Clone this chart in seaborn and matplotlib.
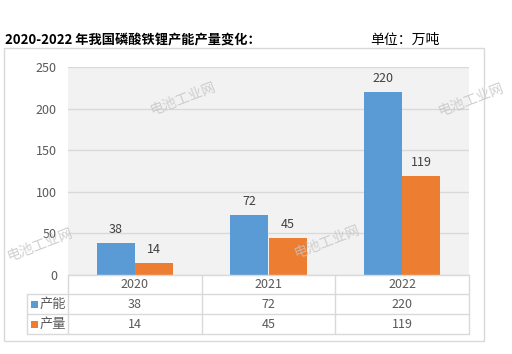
import matplotlib
matplotlib.use("Agg")
import matplotlib.pyplot as plt
import seaborn as sns
import pandas as pd
from matplotlib.patches import Rectangle
from matplotlib.lines import Line2D

years = ["2020", "2021", "2022"]
series_names = ["产能", "产量"]
capacity = [38, 72, 220]
output = [14, 45, 119]
yticks = [0, 50, 100, 150, 200, 250]
title = "2020-2022 年我国磷酸铁锂产能产量变化："
unit = "单位：万吨"
watermark = "电池工业网"

colors = ["#5b9bd5", "#ed7d31"]

sns.set_style("white")
plt.rcParams['font.family'] = ['Noto Sans CJK SC', 'DejaVu Sans']

W, H = 512, 354
fig = plt.figure(figsize=(W / 100, H / 100), dpi=100)

def fx(x):
    return x / W

def fy(y):
    return 1 - y / H

# outer frame
fig.patches.append(Rectangle((fx(4), fy(341)), fx(480), 293 / H, transform=fig.transFigure,
                             fill=False, edgecolor="#d9d9d9", linewidth=1))

# title
fig.text(fx(5), fy(40), title, fontsize=9.5, fontweight="bold", color="#000000", va="center", ha="left")
fig.text(fx(370), fy(40), unit, fontsize=10, color="#000000", va="center", ha="left")

# plot axes
L, R, T, B = 68, 469, 67, 275
ax = fig.add_axes([fx(L), fy(B), (R - L) / W, (B - T) / H])
ax.set_facecolor("#f2f2f2")

df = pd.DataFrame({
    "year": years * 2,
    "series": [series_names[0]] * 3 + [series_names[1]] * 3,
    "value": capacity + output,
})
sns.barplot(data=df, x="year", y="value", hue="series", palette=colors, width=0.57,
            ax=ax, legend=False, saturation=1, linewidth=0)

for cont in ax.containers:
    ax.bar_label(cont, padding=5, fontsize=9, color="#404040")

ax.set_ylim(0, 250)
ax.set_yticks(yticks)
ax.set_yticklabels([str(t) for t in yticks], fontsize=9, color="#595959")
ax.set_xticks([])
ax.set_xlim(-0.5, 2.5)
ax.set_xlabel("")
ax.set_ylabel("")
ax.tick_params(axis="y", length=0, pad=8)
ax.grid(axis="y", color="#d9d9d9", linewidth=1)
ax.set_axisbelow(True)
for s in ax.spines.values():
    s.set_visible(False)

# data table
col_x = [L + (R - L) * i / 3 for i in range(4)]
row_y = [275, 294, 314, 334]
lc = "#d9d9d9"
def hline(x0, x1, y):
    fig.lines.append(Line2D([fx(x0), fx(x1)], [fy(y), fy(y)], transform=fig.transFigure, color=lc, linewidth=1))
def vline(x, y0, y1):
    fig.lines.append(Line2D([fx(x), fx(x)], [fy(y0), fy(y1)], transform=fig.transFigure, color=lc, linewidth=1))

hline(L, R, row_y[0])
hline(27, R, row_y[1])
hline(27, R, row_y[2])
hline(27, R, row_y[3])
vline(27, row_y[1], row_y[3])
for x in col_x:
    vline(x, row_y[0], row_y[3])

for i, yr in enumerate(years):
    cx = (col_x[i] + col_x[i + 1]) / 2
    fig.text(fx(cx), fy((row_y[0] + row_y[1]) / 2), yr, fontsize=9, color="#595959", ha="center", va="center")
    fig.text(fx(cx), fy((row_y[1] + row_y[2]) / 2), str(capacity[i]), fontsize=9, color="#595959", ha="center", va="center")
    fig.text(fx(cx), fy((row_y[2] + row_y[3]) / 2), str(output[i]), fontsize=9, color="#595959", ha="center", va="center")

for j, name in enumerate(series_names):
    yc = (row_y[j + 1] + row_y[j + 2]) / 2
    fig.patches.append(Rectangle((fx(31), fy(yc + 3.5)), fx(7), 7 / H, transform=fig.transFigure,
                                 facecolor=colors[j], edgecolor="none"))
    fig.text(fx(40), fy(yc), name, fontsize=9.5, color="#595959", ha="left", va="center")

# watermarks
for (x, y) in [(40, 245), (183, 99), (327, 242), (471, 100)]:
    fig.text(fx(x), fy(y), watermark, fontsize=10, color="#c4c4c4", rotation=21,
             ha="center", va="center", alpha=0.8)

fig.savefig("out.png", dpi=100)
